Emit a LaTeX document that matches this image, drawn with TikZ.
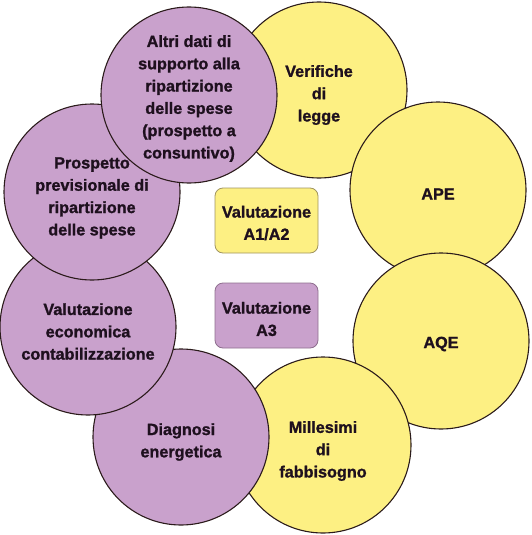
\documentclass[tikz,border=0pt]{standalone}
\usepackage{fontspec}
\newfontfamily\lblfont{Liberation Sans Bold}[FakeBold=1.3]
\definecolor{yel}{HTML}{FDF083}
\definecolor{pur}{HTML}{C9A1CC}
\definecolor{circline}{HTML}{2B1B1B}
\definecolor{txt}{HTML}{1E101E}
\definecolor{ybord}{HTML}{A09460}
\definecolor{pbord}{HTML}{8E6E8E}
\begin{document}
\begin{tikzpicture}[x=1pt,y=-1pt,
  lbl/.style={font=\lblfont\fontsize{16.2}{22.3}\selectfont, text=txt, align=center, inner sep=0pt},
  circ/.style={circle, draw=circline, line width=1.1pt, minimum size=176pt, inner sep=0pt},
  ycirc/.style={circ, fill=yel},
  pcirc/.style={circ, fill=pur},
  valbox/.style={rectangle, rounded corners=8pt, minimum width=103pt, minimum height=65pt, inner sep=0pt, line width=0.8pt}]
\useasboundingbox (0,0) rectangle (531,535);
\node[ycirc] (verif) at (319,90) {};
\node[lbl] (verif-t) at ([yshift=-5pt]verif.center) {Verifiche\\di\\legge};
\node[ycirc] (ape) at (438,190) {};
\node[lbl] (ape-t) at ([yshift=-4pt]ape.center) {APE};
\node[ycirc] (aqe) at (441,341) {};
\node[lbl] (aqe-t) at ([yshift=-3pt]aqe.center) {AQE};
\node[ycirc] (mill) at (323,445) {};
\node[lbl] (mill-t) at ([yshift=-6pt]mill.center) {Millesimi\\di\\fabbisogno};
\node[pcirc] (diag) at (181,437) {};
\node[lbl] (diag-t) at ([yshift=-5pt]diag.center) {Diagnosi\\energetica};
\node[pcirc] (valec) at (88,327) {};
\node[lbl] (valec-t) at ([yshift=-4.5pt]valec.center) {Valutazione\\economica\\contabilizzazione};
\node[pcirc] (prosp) at (92,192) {};
\node[lbl] (prosp-t) at ([yshift=-6pt]prosp.center) {Prospetto\\previsionale di\\ripartizione\\delle spese};
\node[pcirc] (altri) at (189,95) {};
\node[lbl] (altri-t) at ([yshift=-3.5pt]altri.center) {Altri dati di\\supporto alla\\ripartizione\\delle spese\\(prospetto a\\consuntivo)};
\node[valbox, fill=yel, draw=ybord] (a12) at (266.5,220.5) {};
\node[lbl] (a12-t) at ([yshift=-2.5pt]a12.center) {Valutazione\\A1/A2};
\node[valbox, fill=pur, draw=pbord] (a3) at (266.5,315.5) {};
\node[lbl] (a3-t) at ([yshift=-3.5pt]a3.center) {Valutazione\\A3};
\end{tikzpicture}
\end{document}
